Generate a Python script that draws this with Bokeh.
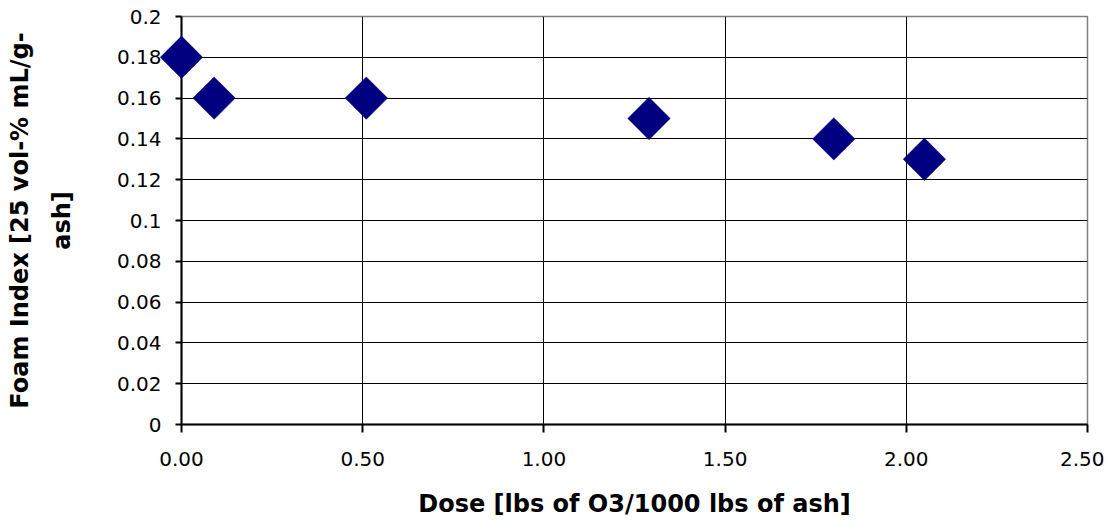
from bokeh.plotting import figure
from bokeh.models import FixedTicker, PrintfTickFormatter, Range1d
from bokeh.embed import file_html
from bokeh.resources import INLINE
import numpy as np

dose = [0.00, 0.09, 0.51, 1.29, 1.80, 2.05]
foam_index = [0.18, 0.16, 0.16, 0.15, 0.14, 0.13]
x_ticks = [0.0, 0.5, 1.0, 1.5, 2.0, 2.5]
y_ticks = [0.0, 0.02, 0.04, 0.06, 0.08, 0.10, 0.12, 0.14, 0.16, 0.18, 0.20]
y_tick_labels = ["0", "0.02", "0.04", "0.06", "0.08", "0.1", "0.12", "0.14", "0.16", "0.18", "0.2"]
x_label = "Dose [lbs of O3/1000 lbs of ash]"
y_label = "Foam Index [25 vol-% mL/g-\nash]"

p = figure(width=1104, height=520, output_backend="svg", toolbar_location=None,
           x_range=Range1d(0, 2.5), y_range=Range1d(0, 0.2),
           min_border_left=181, min_border_right=17, min_border_top=16, min_border_bottom=96)

r = p.scatter(dose, foam_index, marker="square", angle=np.pi / 4, size=30,
              fill_color="#000080", line_color="#000080", line_width=0.5)
r.level = "overlay"

p.outline_line_color = "#808080"
p.outline_line_width = 1.5

# grids
p.xgrid.ticker = FixedTicker(ticks=x_ticks[1:-1])
p.ygrid.ticker = FixedTicker(ticks=y_ticks[1:-1])
for g in (p.xgrid, p.ygrid):
    g.grid_line_color = "black"
    g.grid_line_width = 1

# x axis
xa = p.xaxis[0]
xa.ticker = FixedTicker(ticks=x_ticks)
xa.formatter = PrintfTickFormatter(format="%.2f")
xa.axis_label = x_label
xa.axis_label_text_font = "DejaVu Sans"
xa.axis_label_text_font_style = "bold"
xa.axis_label_text_font_size = "24px"
xa.axis_label_text_color = "black"
xa.axis_label_standoff = 21
xa.major_label_text_font = "DejaVu Sans"
xa.major_label_text_font_size = "20px"
xa.major_label_text_color = "black"
xa.major_label_standoff = 19
xa.major_tick_out = 8
xa.major_tick_in = 0
xa.minor_tick_out = 0
xa.minor_tick_in = 0
xa.axis_line_width = 2
xa.major_tick_line_width = 2
xa.axis_line_color = "black"

# y axis
ya = p.yaxis[0]
ya.ticker = FixedTicker(ticks=y_ticks)
ya.major_label_overrides = {t: l for t, l in zip(y_ticks, y_tick_labels)}
ya.axis_label = y_label
ya.axis_label_text_font = "DejaVu Sans"
ya.axis_label_text_font_style = "bold"
ya.axis_label_text_font_size = "24px"
ya.axis_label_text_color = "black"
ya.axis_label_text_line_height = 1.5
ya.axis_label_standoff = 38
ya.major_label_text_font = "DejaVu Sans"
ya.major_label_text_font_size = "20px"
ya.major_label_text_color = "black"
ya.major_label_standoff = 14
ya.major_tick_out = 6
ya.major_tick_in = 0
ya.minor_tick_out = 0
ya.minor_tick_in = 0
ya.axis_line_width = 2
ya.major_tick_line_width = 2
ya.axis_line_color = "black"

open("out.html", "w").write(file_html(p, INLINE))
